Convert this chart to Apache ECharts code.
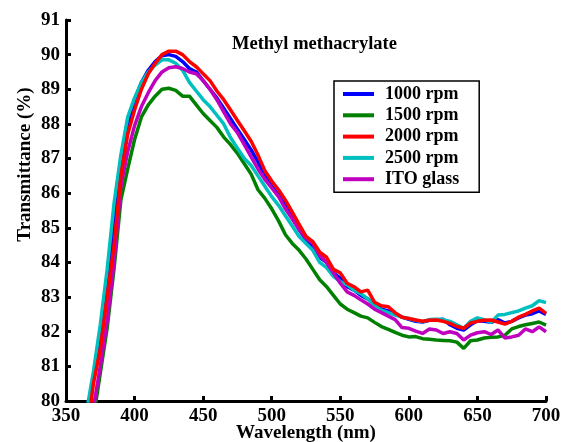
<!DOCTYPE html>
<html>
<head>
<meta charset="utf-8">
<script src="https://cdn.jsdelivr.net/npm/echarts@6/dist/echarts.min.js"></script>
<style>
html,body{margin:0;padding:0;background:#fff;}
#chart{width:568px;height:442px;}
</style>
</head>
<body>
<div id="chart"></div>
<script>
var wavelengths = [365,370,375,380,385,390,395,400,405,410,415,420,425,430,435,440,445,450,455,460,465,470,475,480,485,490,495,500,505,510,515,520,525,530,535,540,545,550,555,560,565,570,575,580,585,590,595,600,605,610,615,620,625,630,635,640,645,650,655,660,665,670,675,680,685,690,695,700];

var rpm1000 = [79.2,80.7,81.9,83.4,85.2,86.9,88.0,88.7,89.2,89.55,89.8,89.97,90.0,89.95,89.8,89.6,89.5,89.25,89.0,88.75,88.45,88.15,87.85,87.55,87.25,86.9,86.5,86.2,85.95,85.65,85.3,84.95,84.65,84.45,84.15,84.0,83.7,83.55,83.3,83.2,83.05,82.95,82.8,82.65,82.6,82.52,82.42,82.36,82.3,82.28,82.33,82.34,82.36,82.2,82.1,82.05,82.2,82.32,82.3,82.27,82.35,82.25,82.3,82.4,82.48,82.52,82.6,82.5];

var rpm1500 = [78.3,79.5,80.8,82.1,83.8,85.8,86.7,87.55,88.2,88.55,88.8,89.0,89.03,88.97,88.8,88.8,88.55,88.3,88.1,87.9,87.62,87.4,87.15,86.85,86.55,86.1,85.85,85.55,85.2,84.8,84.55,84.35,84.1,83.8,83.5,83.3,83.05,82.8,82.65,82.55,82.45,82.4,82.27,82.15,82.07,81.98,81.9,81.85,81.86,81.8,81.78,81.76,81.75,81.74,81.7,81.52,81.74,81.76,81.82,81.84,81.85,81.9,82.08,82.15,82.2,82.24,82.28,82.19];

var rpm2000 = [79.0,80.5,81.5,83.0,84.5,86.5,87.7,88.4,89.0,89.45,89.75,90.0,90.1,90.1,90.0,89.8,89.65,89.45,89.25,88.95,88.7,88.4,88.1,87.8,87.5,87.1,86.65,86.35,86.1,85.8,85.45,85.1,84.75,84.6,84.3,84.15,83.8,83.7,83.4,83.3,83.15,83.2,82.85,82.75,82.72,82.55,82.42,82.38,82.34,82.3,82.33,82.34,82.3,82.24,82.15,82.1,82.25,82.3,82.33,82.34,82.28,82.22,82.3,82.42,82.5,82.6,82.68,82.53];

var rpm2500 = [79.7,80.85,82.2,83.8,85.7,87.1,88.2,88.75,89.2,89.5,89.7,89.85,89.85,89.75,89.55,89.2,88.95,88.7,88.5,88.25,88.0,87.6,87.3,87.0,86.8,86.5,86.2,85.9,85.65,85.35,85.05,84.75,84.55,84.35,84.0,83.85,83.6,83.45,83.35,83.2,83.1,82.95,82.75,82.62,82.55,82.48,82.42,82.38,82.33,82.29,82.35,82.36,82.35,82.3,82.2,82.1,82.3,82.4,82.35,82.27,82.48,82.5,82.55,82.6,82.68,82.75,82.9,82.84];

var itoGlass = [78.5,79.8,81.0,82.3,84.0,86.2,87.2,87.95,88.5,88.9,89.25,89.5,89.62,89.65,89.6,89.5,89.45,89.25,89.0,88.7,88.35,88.0,87.75,87.4,87.05,86.7,86.4,86.15,85.9,85.55,85.25,84.95,84.7,84.55,84.2,84.0,83.7,83.4,83.15,83.05,82.92,82.8,82.65,82.55,82.45,82.35,82.12,82.1,82.02,81.95,82.08,82.05,81.95,82.0,81.95,81.76,81.9,81.97,82.0,81.92,82.05,81.82,81.85,81.9,82.08,82.0,82.14,82.0];

var seriesNames = ['1000 rpm','1500 rpm','2000 rpm','2500 rpm','ITO glass'];
var seriesValues = [rpm1000, rpm1500, rpm2000, rpm2500, itoGlass];
var seriesColors = ['#0000ff','#008000','#ff0000','#00bfbf','#bf00bf'];

var FONT = '"Liberation Serif", "Times New Roman", serif';

function pairs(vals){
  return wavelengths.map(function(w,i){ return [w, vals[i]]; });
}

var chart = echarts.init(document.getElementById('chart'), null, {renderer:'canvas'});
chart.setOption({
  animation:false,
  backgroundColor:'#ffffff',
  title:{
    text:'Methyl methacrylate',
    left:232, top:35,
    padding:0,
    textStyle:{fontFamily:FONT, fontWeight:'bold', fontSize:18.5, color:'#000'}
  },
  legend:{
    orient:'vertical',
    left:334, top:81,
    padding:[4,20,4,9],
    itemWidth:31, itemHeight:4, itemGap:3.3,
    borderColor:'#000', borderWidth:1.5, backgroundColor:'#fff',
    icon:'rect',
    textStyle:{fontFamily:FONT, fontWeight:'bold', fontSize:18, color:'#000', lineHeight:18, padding:[0,0,0,6]},
    data:seriesNames
  },
  grid:{left:66, right:22, top:20, bottom:41, containLabel:false, outerBoundsMode:'none'},
  xAxis:{
    type:'value', min:350, max:700, interval:50,
    name:'Wavelength (nm)', nameLocation:'middle', nameGap:23, nameMoveOverlap:false,
    nameTextStyle:{fontFamily:FONT, fontWeight:'bold', fontSize:19, color:'#000'},
    axisLine:{show:true, lineStyle:{color:'#000', width:3}},
    axisTick:{show:true, inside:true, length:5, lineStyle:{color:'#000', width:3}},
    axisLabel:{fontFamily:FONT, fontWeight:'bold', fontSize:19, color:'#000', margin:6},
    splitLine:{show:false}
  },
  yAxis:{
    type:'value', min:80, max:91, interval:1,
    name:'Transmittance (%)', nameLocation:'middle', nameGap:31, nameMoveOverlap:false,
    nameTextStyle:{fontFamily:FONT, fontWeight:'bold', fontSize:19, color:'#000', padding:[0,0,0,92]},
    axisLine:{show:true, lineStyle:{color:'#000', width:3}},
    axisTick:{show:true, inside:true, length:5, lineStyle:{color:'#000', width:3}},
    axisLabel:{fontFamily:FONT, fontWeight:'bold', fontSize:19, color:'#000', margin:6},
    splitLine:{show:false}
  },
  series:seriesNames.map(function(n,i){
    return {
      name:n, type:'line', data:pairs(seriesValues[i]),
      showSymbol:false, symbol:'none', clip:true,
      lineStyle:{color:seriesColors[i], width:3.5},
      itemStyle:{color:seriesColors[i]},
      z:[2,1,5,3,4][i]
    };
  })
});
</script>
</body>
</html>
